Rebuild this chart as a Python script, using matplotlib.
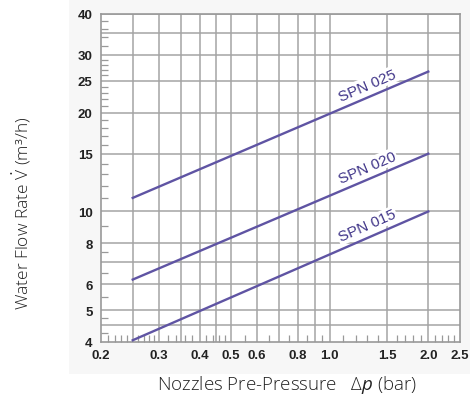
import numpy as np
import matplotlib
matplotlib.use("Agg")
import matplotlib.pyplot as plt
from matplotlib.patches import Rectangle

# ========== Data ==========
pressure = [0.25, 2.0]                # bar
flow_025 = [11.0, 26.7]               # m3/h
flow_020 = [6.2, 15.0]
flow_015 = [4.05, 10.0]
series = [("SPN 025", flow_025, 1.30), ("SPN 020", flow_020, 1.30), ("SPN 015", flow_015, 1.30)]

x_ticks = [0.2, 0.3, 0.4, 0.5, 0.6, 0.8, 1.0, 1.5, 2.0, 2.5]
x_ticklabels = ["0.2", "0.3", "0.4", "0.5", "0.6", "0.8", "1.0", "1.5", "2.0", "2.5"]
y_ticks = [4, 5, 6, 8, 10, 15, 20, 25, 30, 40]
x_grid = [0.25, 0.3, 0.35, 0.4, 0.45, 0.5, 0.6, 0.7, 0.8, 0.9, 1.0, 1.5, 2.0]
y_grid = [4.5, 5, 6, 7, 8, 10, 15, 20, 25, 30, 35, 40]
x_minor = [0.21, 0.22, 0.23, 0.24, 0.26, 0.27, 0.28, 0.29, 0.32, 0.34, 0.36, 0.38,
           0.42, 0.44, 0.46, 0.48, 0.55, 0.65, 0.75, 0.85, 0.95,
           1.1, 1.2, 1.3, 1.4, 1.6, 1.7, 1.8, 1.9, 2.1, 2.2, 2.3, 2.4]
y_minor = [4.25, 4.75, 5.5, 6.5, 7.5, 9, 11, 12, 13, 14, 16, 17, 18, 19,
           21, 22, 23, 24, 26, 27, 28, 29, 32, 34, 36, 38]

# ========== Style ==========
plt.rcParams["mathtext.fontset"] = "custom"
plt.rcParams["mathtext.rm"] = "Open Sans:light"
plt.rcParams["mathtext.it"] = "Open Sans:italic"

line_color = "#5f54a3"
text_color = "#42378a"
grid_color = "#a4a4a4"

fig = plt.figure(figsize=(4.7, 4.1), dpi=100)
# light grey panel behind the chart
fig.patches.append(Rectangle((69 / 470, 1 - 375 / 410), 1, 1, transform=fig.transFigure,
                             facecolor="#f7f7f7", edgecolor="none", zorder=-5))
ax = fig.add_axes([101 / 470, 1 - 343 / 410, 359 / 470, 328 / 410])
ax.set_zorder(2)
ax.set_facecolor("white")
ax.set_xscale("log")
ax.set_yscale("log")
ax.set_xlim(0.2, 2.5)
ax.set_ylim(4, 40)

# grid
for gx in x_grid:
    ax.axvline(gx, color=grid_color, lw=1.1, zorder=1)
for gy in y_grid:
    ax.axhline(gy, color=grid_color, lw=1.1, zorder=1)

# ticks
ax.set_xticks(x_ticks)
ax.set_xticklabels(x_ticklabels)
ax.set_yticks(y_ticks)
ax.set_yticklabels([str(v) for v in y_ticks])
ax.set_xticks(x_minor, minor=True)
ax.set_yticks(y_minor, minor=True)
ax.xaxis.set_minor_formatter(plt.NullFormatter())
ax.yaxis.set_minor_formatter(plt.NullFormatter())
ax.tick_params(which="major", length=0, labelsize=9.5, colors="#222222")
ax.tick_params(axis="x", which="major", pad=5)
ax.tick_params(axis="y", which="major", pad=6)
ax.tick_params(which="minor", direction="in", length=5, width=0.9, color="#999999")
for lab in ax.get_xticklabels() + ax.get_yticklabels():
    lab.set_fontweight("bold")
    lab.set_family("Liberation Sans")

for sp in ax.spines.values():
    sp.set_color("#999999")
    sp.set_linewidth(1.2)

# lines + labels
fig.canvas.draw()
for name, flow, lx in series:
    ax.plot(pressure, flow, color=line_color, lw=1.7, zorder=3)
    p0 = ax.transData.transform((pressure[0], flow[0]))
    p1 = ax.transData.transform((pressure[1], flow[1]))
    ang = np.degrees(np.arctan2(p1[1] - p0[1], p1[0] - p0[0]))
    ly = np.exp(np.interp(np.log(lx), np.log(pressure), np.log(flow)))
    ax.annotate(name, (lx, ly), xytext=(0, 9), textcoords="offset points",
                rotation=ang, rotation_mode="anchor", ha="center", va="center",
                fontsize=11, color=text_color, family="Liberation Sans", zorder=4,
                bbox=dict(facecolor="white", edgecolor="none", pad=1))

fig.text(287 / 470, 1 - 385 / 410, r"Nozzles Pre-Pressure   $\mathit{\Delta p}$ (bar)",
         ha="center", va="center", fontsize=13.5, family="Open Sans", fontweight="light",
         color="#222222")
fig.text(22 / 470, 1 - 213 / 410, r"Water Flow Rate $\dot{\mathrm{V}}$ (m³/h)",
         ha="center", va="center", rotation=90, fontsize=12.5, family="Open Sans",
         fontweight="light", color="#222222")

fig.savefig("out.png", dpi=100)
